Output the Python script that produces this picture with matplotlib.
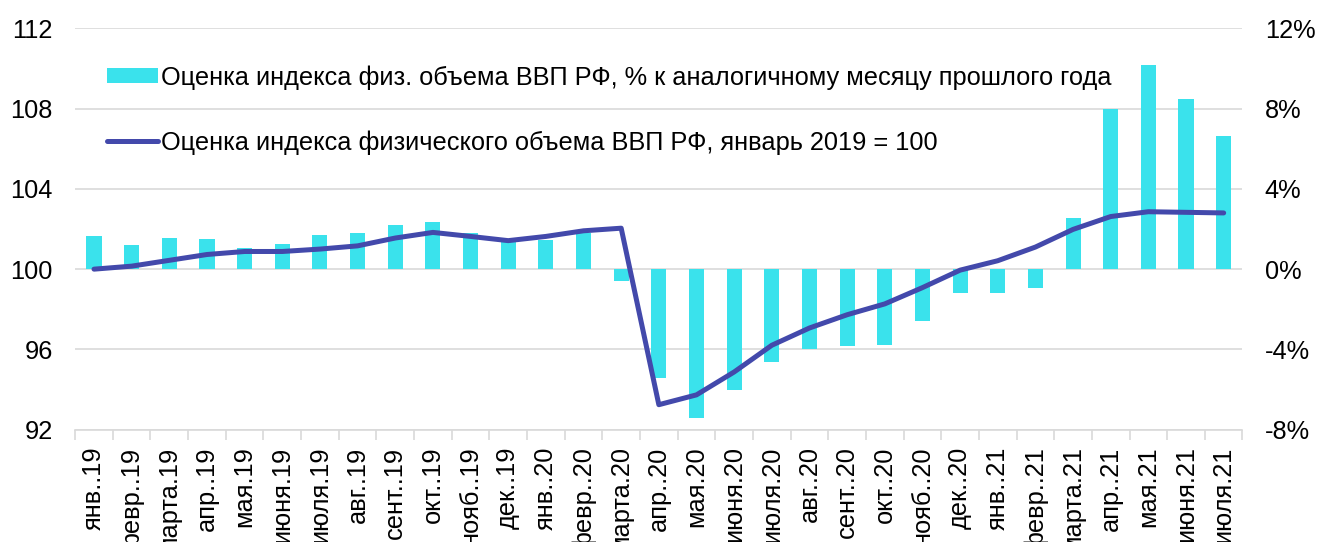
import numpy as np
import matplotlib
matplotlib.use("Agg")
import matplotlib.pyplot as plt
from matplotlib.ticker import FixedLocator

plt.rcParams['font.family'] = ['Liberation Sans', 'DejaVu Sans']

# months Jan 2019 .. Jul 2021
labels = ['янв..19', 'февр..19', 'марта.19', 'апр..19', 'мая.19', 'июня.19',
          'июля.19', 'авг..19', 'сент..19', 'окт..19', 'нояб..19', 'дек..19',
          'янв..20', 'февр..20', 'марта.20', 'апр..20', 'мая.20', 'июня.20',
          'июля.20', 'авг..20', 'сент..20', 'окт..20', 'нояб..20', 'дек..20',
          'янв..21', 'февр..21', 'марта.21', 'апр..21', 'мая.21', 'июня.21',
          'июля.21']

# % к аналогичному месяцу прошлого года (правая ось)
yoy = [1.67, 1.22, 1.53, 1.50, 1.06, 1.26, 1.70, 1.80, 2.20, 2.35, 1.81, 1.42,
       1.45, 1.80, -0.57, -5.40, -7.41, -6.04, -4.64, -3.98, -3.84, -3.80,
       -2.58, -1.17, -1.17, -0.92, 2.55, 8.00, 10.19, 8.48, 6.63]

# индекс, январь 2019 = 100 (левая ось)
index = [100.0, 100.15, 100.44, 100.73, 100.88, 100.88, 101.0, 101.16, 101.55,
         101.83, 101.63, 101.42, 101.63, 101.91, 102.04, 93.25, 93.74, 94.88,
         96.21, 97.07, 97.73, 98.27, 99.08, 99.95, 100.42, 101.1, 101.98,
         102.62, 102.86, 102.83, 102.8]

bar_name = 'Оценка индекса физ. объема ВВП РФ, % к аналогичному месяцу прошлого года'
line_name = 'Оценка индекса физического объема ВВП РФ, январь 2019 = 100'

fs = 18.3
grid_c = '#d9d9d9'
x = np.arange(len(labels))

fig = plt.figure(figsize=(13.19, 5.42), dpi=100)
ax = fig.add_axes([0.057, 0.207, 0.885, 0.741])
ax2 = ax.twinx()

# bars on right axis, behind
bars = ax2.bar(x, yoy, width=0.4, color='#3AE2EC', zorder=2, label=bar_name)
ax2.set_ylim(-8, 12)
ax2.set_yticks(np.arange(-8, 13, 4))
ax2.set_yticklabels([f'{v}%' for v in range(-8, 13, 4)])
ax2.yaxis.grid(True, color=grid_c, linewidth=1.2)
ax2.set_axisbelow(True)

# line on left axis, on top
ax.set_zorder(ax2.get_zorder() + 1)
ax.patch.set_visible(False)
line, = ax.plot(x, index, color='#4349AB', linewidth=3.6,
                solid_capstyle='round', label=line_name)
ax.set_ylim(92, 112)
ax.set_yticks(np.arange(92, 113, 4))
ax.set_xlim(-0.5, len(labels) - 0.5)
ax.set_xticks(x)
ax.set_xticklabels(labels, rotation=90, fontsize=fs)
ax.xaxis.set_minor_locator(FixedLocator(np.arange(-0.5, len(labels), 1)))
ax.tick_params(axis='x', which='major', length=0, pad=12)
ax.tick_params(axis='x', which='minor', length=7, color=grid_c, width=1.2)
ax.tick_params(axis='y', length=0, labelsize=fs, pad=16)
ax2.tick_params(axis='y', length=0, labelsize=fs, pad=16)

for a in (ax, ax2):
    for s in ('top', 'left', 'right'):
        a.spines[s].set_visible(False)
    a.spines['bottom'].set_color(grid_c)
    a.spines['bottom'].set_linewidth(1.2)
ax2.spines['bottom'].set_visible(False)

ax.legend([bars, line], [bar_name, line_name], loc='upper left',
          bbox_to_anchor=(0.027, 0.908), frameon=False, fontsize=fs,
          handlelength=2.0, handletextpad=0.15, labelspacing=1.6,
          borderpad=0, borderaxespad=0, handleheight=0.55)

fig.savefig('out.png', dpi=100)
